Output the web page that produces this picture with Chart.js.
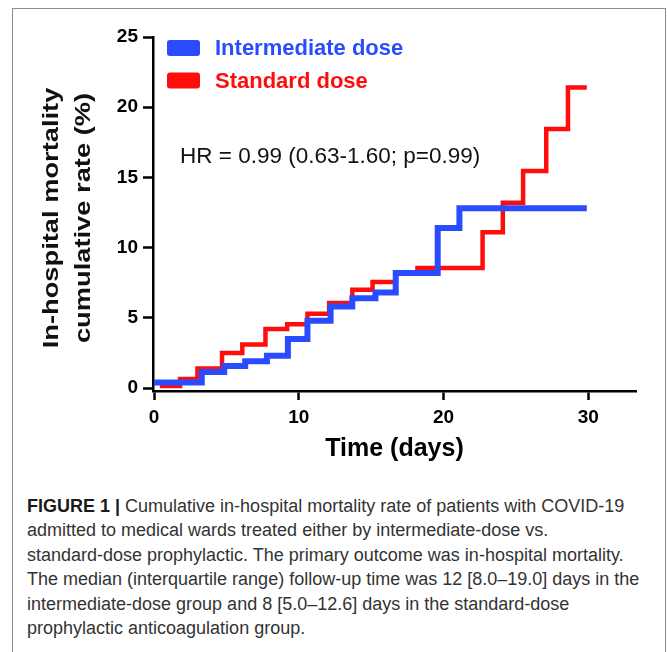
<!DOCTYPE html>
<html>
<head>
<meta charset="utf-8">
<script src="https://cdn.jsdelivr.net/npm/chart.js@4.4.1/dist/chart.umd.min.js"></script>
<style>
    html, body { margin: 0; padding: 0; background: #fff; }
    body { width: 667px; height: 652px; overflow: hidden; position: relative; font-family: 'Liberation Sans', Arial, sans-serif; }
    #frame { position: absolute; left: 12px; top: 8px; width: 652px; height: 700px; border: 1px solid #8c8c8c; }
    #wrap { position: absolute; left: 0; top: 0; width: 667px; height: 470px; }
    #caption { position: absolute; left: 27px; top: 494px; margin: 0; font-size: 18px; line-height: 24.4px; color: #333; white-space: nowrap; }
    #caption b { color: #1a1a1a; }
</style>
</head>
<body>
<div id="frame"></div>
<div id="wrap"><canvas id="kmChart"></canvas></div>
<p id="caption"><b>FIGURE 1 |</b> Cumulative in-hospital mortality rate of patients with COVID-19<br>admitted to medical wards treated either by intermediate-dose vs.<br>standard-dose prophylactic. The primary outcome was in-hospital mortality.<br>The median (interquartile range) follow-up time was 12 [8.0–19.0] days in the<br>intermediate-dose group and 8 [5.0–12.6] days in the standard-dose<br>prophylactic anticoagulation group.</p>
<script>
// values (days, cumulative %)
const intermediateDays = [0, 3.3, 4.85, 6.3, 7.8, 9.25, 10.6, 12.2, 13.7, 15.3, 16.7, 19.6, 21.1, 29.9];
const intermediateRate = [0.4, 1.14, 1.57, 1.9, 2.3, 3.5, 4.8, 5.8, 6.4, 6.8, 8.2, 11.4, 12.8, 12.8];
const standardDays = [0.4, 1.8, 3.0, 4.7, 6.1, 7.7, 9.2, 10.6, 12.1, 13.7, 15.1, 16.7, 18.2, 22.7, 24.1, 25.5, 27.1, 28.6, 29.9];
const standardRate = [0.15, 0.64, 1.4, 2.5, 3.1, 4.2, 4.55, 5.3, 6.05, 7.0, 7.55, 8.2, 8.55, 11.1, 13.2, 15.45, 18.45, 21.4, 21.4];

const seriesNames = ['Intermediate dose', 'Standard dose'];
const seriesColors = ['#2a4cff', '#ff0d0d'];
const xTicks = [0, 10, 20, 30];
const yTicks = [0, 5, 10, 15, 20, 25];
const xTitle = 'Time (days)';
const yTitle = ['In-hospital mortality', 'cumulative rate (%)'];
const hrText = 'HR = 0.99 (0.63-1.60; p=0.99)';

const FONT = '"Liberation Sans", Arial, sans-serif';

const toPoints = (days, rate) => days.map((d, i) => ({ x: d, y: rate[i] }));

// legend, HR label and the stretched y title (Prism-style)
const extras = {
    id: 'extras',
    afterDraw(chart) {
        const { ctx, chartArea } = chart;
        ctx.save();

        chart.data.datasets.forEach((ds, i) => {
            const cy = chartArea.top + 11 + i * 32.5;
            ctx.fillStyle = ds.borderColor;
            ctx.beginPath();
            ctx.roundRect(chartArea.left + 14, cy - 8, 33, 16, 3);
            ctx.fill();
            ctx.font = 'bold 22px ' + FONT;
            ctx.textBaseline = 'middle';
            ctx.textAlign = 'left';
            ctx.fillText(ds.label, chartArea.left + 62, cy + 1);
        });

        ctx.fillStyle = '#111';
        ctx.font = '22.5px ' + FONT;
        ctx.textBaseline = 'alphabetic';
        ctx.fillText(hrText, chartArea.left + 27, 163);

        ctx.translate(0, 218);
        ctx.rotate(-Math.PI / 2);
        ctx.scale(1.24, 1);
        ctx.font = 'bold 22px ' + FONT;
        ctx.textAlign = 'center';
        ctx.fillText(yTitle[0], 0, 57.5);
        ctx.fillText(yTitle[1], 0, 89.5);
        ctx.restore();
    }
};

const ctx = document.getElementById('kmChart').getContext('2d');
new Chart(ctx, {
    type: 'line',
    data: {
        datasets: [
            {
                label: seriesNames[0],
                data: toPoints(intermediateDays, intermediateRate),
                borderColor: seriesColors[0],
                borderWidth: 6,
                stepped: true,
                pointRadius: 0,
                fill: false
            },
            {
                label: seriesNames[1],
                data: toPoints(standardDays, standardRate),
                borderColor: seriesColors[1],
                borderWidth: 4.5,
                stepped: true,
                pointRadius: 0,
                fill: false
            }
        ]
    },
    options: {
        responsive: true,
        maintainAspectRatio: false,
        animation: false,
        layout: { padding: { left: 0, top: 37, right: 31, bottom: 0 } },
        plugins: {
            legend: { display: false },
            tooltip: { enabled: false }
        },
        scales: {
            x: {
                type: 'linear',
                min: -0.07,
                max: 33.3,
                afterBuildTicks: s => { s.ticks = xTicks.map(v => ({ value: v })); },
                afterFit: s => { s.height = 79; },
                ticks: { color: '#000', font: { family: FONT, size: 19, weight: 'bold' }, padding: 6, maxRotation: 0, autoSkip: false },
                grid: { drawOnChartArea: false, drawTicks: true, tickLength: 9, tickColor: '#000', tickWidth: 2.5 },
                border: { display: true, color: '#000', width: 2.5 },
                title: { display: true, text: xTitle, color: '#000', font: { family: FONT, size: 25, weight: 'bold' }, padding: { top: 0, bottom: 6 } }
            },
            y: {
                min: -0.21,
                max: 25,
                afterBuildTicks: s => { s.ticks = yTicks.map(v => ({ value: v })); },
                afterFit: s => { s.width = 153; },
                ticks: { color: '#000', font: { family: FONT, size: 19, weight: 'bold' }, padding: 5 },
                grid: { drawOnChartArea: false, drawTicks: true, tickLength: 10, tickColor: '#000', tickWidth: 2.5 },
                border: { display: true, color: '#000', width: 2.5 }
            }
        }
    },
    plugins: [extras]
});
</script>
</body>
</html>
